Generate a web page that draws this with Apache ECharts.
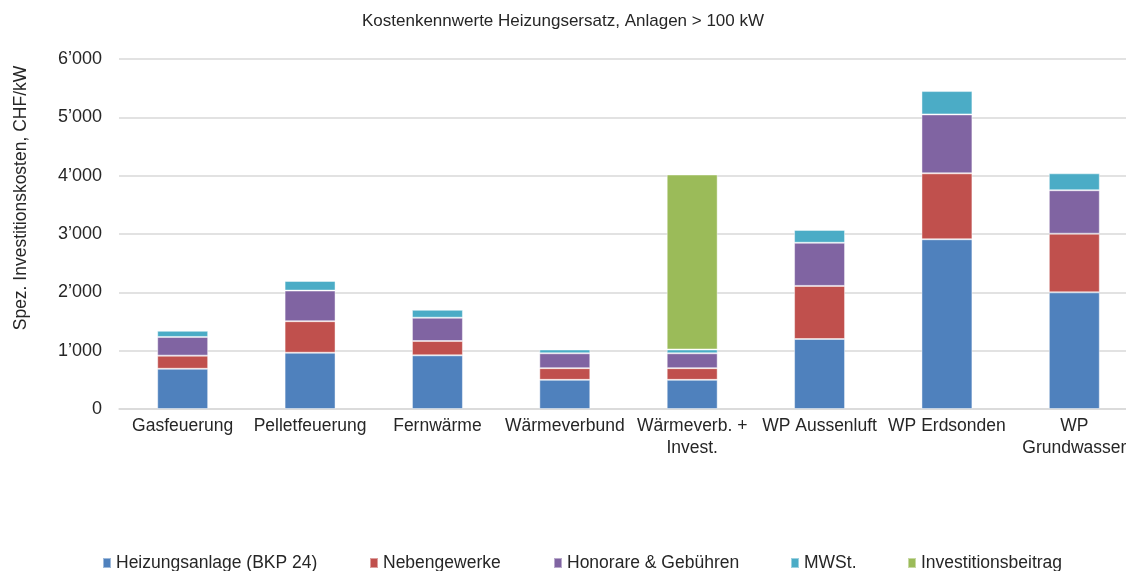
<!DOCTYPE html>
<html>
<head>
<meta charset="utf-8">
<script src="https://cdn.jsdelivr.net/npm/echarts@6/dist/echarts.min.js"></script>
<style>
  html, body { margin: 0; padding: 0; background: #fff; }
  #chart { width: 1126px; height: 571px; }
</style>
</head>
<body>
<div id="chart"></div>
<script>
const categories = ['Gasfeuerung', 'Pelletfeuerung', 'Fernwärme', 'Wärmeverbund',
  'Wärmeverb. +\nInvest.', 'WP Aussenluft', 'WP Erdsonden', 'WP\nGrundwasser']

// CHF/kW, stacked
const heizungsanlage = [690, 965, 920, 500, 500, 1200, 2910, 2000]
const nebengewerke = [225, 540, 245, 200, 200, 910, 1130, 1005]
const honorare = [320, 525, 400, 255, 255, 740, 1010, 745]
const mwst = [105, 165, 135, 65, 65, 220, 400, 290]
const investitionsbeitrag = ['-', '-', '-', '-', 3000, '-', '-', '-']

const seriesNames = ['Heizungsanlage (BKP 24)', 'Nebengewerke', 'Honorare & Gebühren', 'MWSt.', 'Investitionsbeitrag']
const colors = ['#4F81BD', '#C0504D', '#8064A2', '#4BACC6', '#9BBB59']
const legendLeft = [97, 364, 548, 785, 902]

const txt = '#262626'
const font = 'Liberation Sans, Arial, sans-serif'
const fs = 17.5

const chart = echarts.init(document.getElementById('chart'))

function bar(name, values, color) {
  return {
    name: name,
    type: 'bar',
    stack: 'total',
    barWidth: '40%',
    data: values,
    itemStyle: {
      color: color,
      borderColor: 'rgba(255,255,255,0.45)',
      borderWidth: 1
    },
    emphasis: { disabled: true }
  }
}

const options = {
  animation: false,
  color: colors,
  title: {
    text: 'Kostenkennwerte Heizungsersatz, Anlagen > 100 kW',
    left: 'center',
    top: 8,
    textStyle: { fontSize: 17, fontWeight: 'normal', color: txt, fontFamily: font }
  },
  // one legend per entry so each sits where the original has it
  legend: seriesNames.map((n, i) => ({
    data: [n],
    left: legendLeft[i],
    top: 549,
    itemWidth: 8,
    itemHeight: 10,
    itemGap: 0,
    icon: 'rect',
    textStyle: { fontSize: fs, color: txt, fontFamily: font }
  })),
  grid: {
    left: 119,
    top: 59,
    width: 1019,
    bottom: 162,
    outerBoundsMode: 'none'
  },
  xAxis: {
    type: 'category',
    data: categories,
    axisTick: { show: false },
    axisLine: { lineStyle: { color: '#D9D9D9', width: 1.5 } },
    axisLabel: {
      interval: 0,
      margin: 6,
      fontSize: fs,
      lineHeight: 22,
      color: txt,
      fontFamily: font
    }
  },
  yAxis: {
    type: 'value',
    min: 0,
    max: 6000,
    interval: 1000,
    name: 'Spez. Investitionskosten, CHF/kW',
    nameLocation: 'middle',
    nameGap: 89,
    nameTextStyle: { fontSize: fs, color: txt, fontFamily: font, padding: [0, 0, 0, 72] },
    axisLine: { show: false },
    axisTick: { show: false },
    splitLine: { lineStyle: { color: '#D9D9D9', width: 1.5 } },
    axisLabel: {
      margin: 17,
      fontSize: 18,
      color: txt,
      fontFamily: font,
      formatter: function (v) {
        return v >= 1000 ? Math.floor(v / 1000) + '\u2019' + String(v % 1000).padStart(3, '0') : String(v)
      }
    }
  },
  series: [
    bar(seriesNames[0], heizungsanlage, colors[0]),
    bar(seriesNames[1], nebengewerke, colors[1]),
    bar(seriesNames[2], honorare, colors[2]),
    bar(seriesNames[3], mwst, colors[3]),
    bar(seriesNames[4], investitionsbeitrag, colors[4])
  ]
}

chart.setOption(options)
</script>
</body>
</html>
